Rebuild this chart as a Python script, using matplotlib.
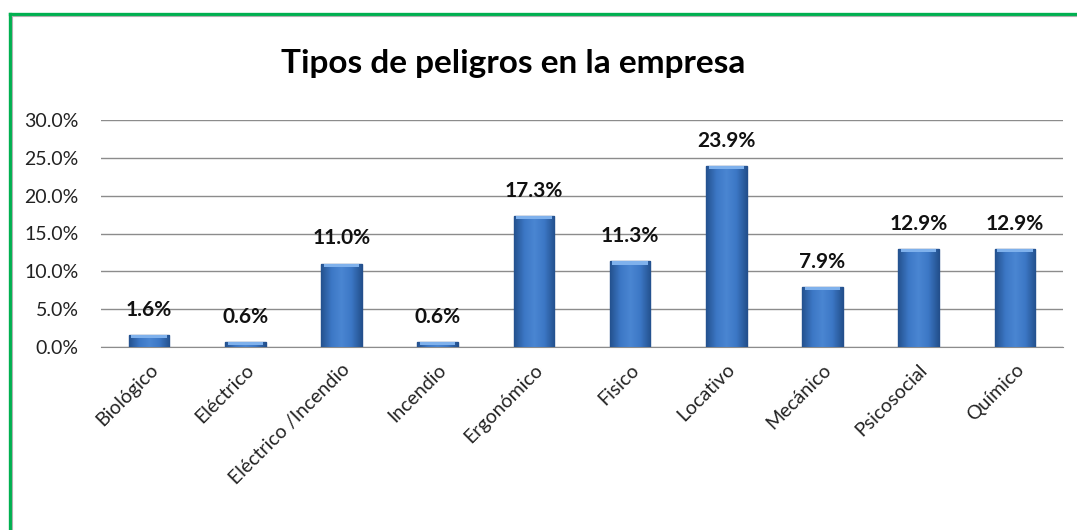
import matplotlib.pyplot as plt
from matplotlib.lines import Line2D
from matplotlib.ticker import FuncFormatter
from matplotlib.colors import LinearSegmentedColormap
import numpy as np

categorias = ['Biológico', 'Eléctrico', 'Eléctrico /Incendio', 'Incendio', 'Ergonómico',
              'Fisico', 'Locativo', 'Mecánico', 'Psicosocial', 'Químico']
porcentajes = [1.6, 0.6, 11.0, 0.6, 17.3, 11.3, 23.9, 7.9, 12.9, 12.9]
y_ticks = [0, 5, 10, 15, 20, 25, 30]

W, H = 1077, 530
plt.rcParams['font.family'] = ['Lato', 'DejaVu Sans']

fig = plt.figure(figsize=(W / 100, H / 100), dpi=100)
ax = fig.add_axes([101 / W, 1 - 347 / H, (1063 - 101) / W, (347 - 120) / H])

x = np.arange(len(categorias))
bars = ax.bar(x, porcentajes, width=0.42, color='#3a70bd', edgecolor='#244f8c',
              linewidth=1.0, zorder=3)

# bevel-like shading: dark edges, lighter middle, light cap on top
shade = LinearSegmentedColormap.from_list('shade', ['#24528f', '#3c77c5', '#4a86d2',
                                                    '#3c77c5', '#24528f'])
grad = np.linspace(0, 1, 64).reshape(1, -1)
for b in bars:
    x0, w, h = b.get_x(), b.get_width(), b.get_height()
    im = ax.imshow(grad, cmap=shade, aspect='auto', extent=[x0, x0 + w, 0, h],
                   zorder=3.5, interpolation='bilinear')
    im.set_clip_path(b)
    c = min(0.4, h)
    ax.bar(x0 + w / 2, c, bottom=h - c, width=w * 0.88, color='#7fb1ec',
           linewidth=0, zorder=4)

for xi, v in zip(x, porcentajes):
    ax.annotate('{:.1f}%'.format(v), (xi, v), xytext=(0, 11), textcoords='offset points',
                ha='center', va='bottom', fontsize=15, fontweight='bold', color='#111111')

ax.set_xlim(-0.5, len(categorias) - 0.5)
ax.set_ylim(0, 30)
ax.set_yticks(y_ticks)
ax.yaxis.set_major_formatter(FuncFormatter(lambda v, p: '{:.1f}%'.format(v)))
ax.grid(axis='y', color='#8c8c8c', linewidth=1.0, zorder=0)
ax.tick_params(axis='y', length=0, labelsize=14, pad=16, labelcolor='#222222')
ax.set_xticks(x)
ax.set_xticklabels(categorias, rotation=45, ha='right', rotation_mode='anchor',
                   fontsize=14, color='#222222')
ax.tick_params(axis='x', length=0, pad=10)
for s in ['top', 'right', 'left']:
    ax.spines[s].set_visible(False)
ax.spines['bottom'].set_color('#8c8c8c')

fig.text(513 / W, 1 - 64 / H, 'Tipos de peligros en la empresa', ha='center', va='center',
         fontsize=24, fontweight='bold', color='#000000')

# green frame (top and left edges visible)
fig.add_artist(Line2D([9.5 / W, 1], [1 - 13.5 / H, 1 - 13.5 / H], color='#00b050',
                      linewidth=2.4, transform=fig.transFigure))
fig.add_artist(Line2D([9.5 / W, 9.5 / W], [0, 1 - 13.5 / H], color='#00b050',
                      linewidth=2.4, transform=fig.transFigure))
fig.add_artist(Line2D([12 / W, 1], [1 - 16 / H, 1 - 16 / H], color='#b0b0b0',
                      linewidth=0.8, transform=fig.transFigure))
fig.add_artist(Line2D([12 / W, 12 / W], [0, 1 - 16 / H], color='#b0b0b0',
                      linewidth=0.8, transform=fig.transFigure))

fig.savefig('out.png', dpi=100)
